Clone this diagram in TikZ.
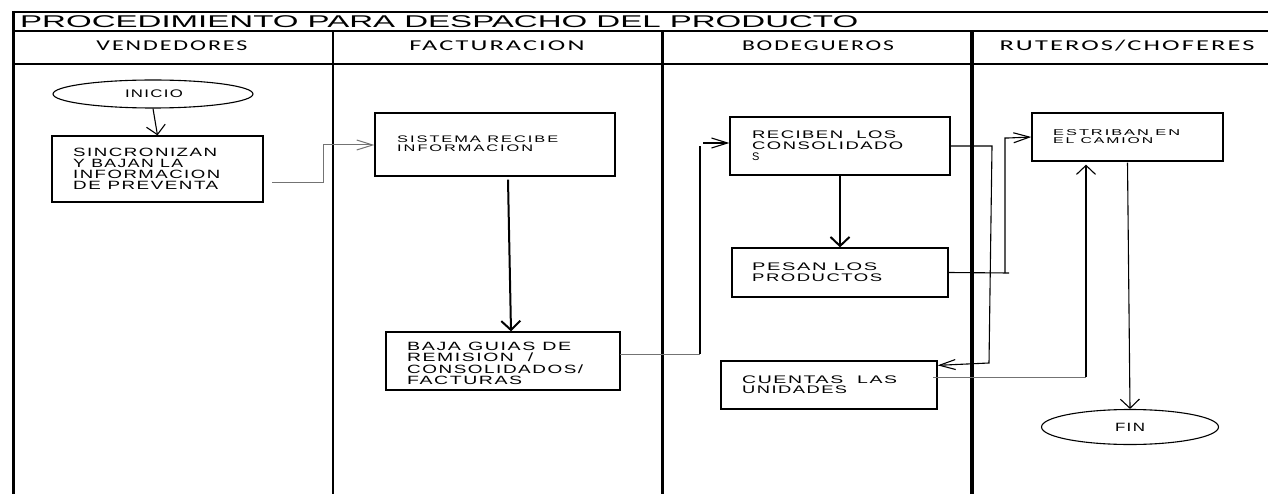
\documentclass[tikz,border=0pt]{standalone}
\usepackage{fontspec}
\setmainfont{Liberation Sans}
\newfontfamily\hdrfont{Carlito}
\usetikzlibrary{arrows.meta,shapes.geometric}
\newcommand\fw[2]{\resizebox{#1pt}{\height}{#2}}
\newcommand\blk[2]{\vtop{\baselineskip=#1pt\relax #2}}
\begin{document}
\begin{tikzpicture}[x=1pt,y=-1pt,
  frame/.style={line width=2pt},
  lane/.style={line width=3pt},
  box/.style={draw,line width=1.3pt,rectangle,inner sep=0pt},
  oval/.style={draw,line width=1.1pt,ellipse,inner sep=0pt},
  txt/.style={inner sep=0pt,anchor=base west},
  conn/.style={line width=1.1pt},
  connthick/.style={line width=2pt},
  conngray/.style={line width=1pt,black!55},
  arrV/.style={-{Straight Barb[length=9pt,width=19pt]}},
  arrH/.style={-{Straight Barb[length=16pt,width=10pt]}},
  hdr/.style={inner sep=0pt,anchor=base,font=\hdrfont\fontsize{15}{15}\selectfont\addfontfeature{LetterSpace=8}},
  bodyfont/.style={font=\fontsize{#1}{#1}\selectfont\addfontfeature{LetterSpace=8}}
]
\fill[white] (0,0) rectangle (1268,494);
\useasboundingbox (0,0) rectangle (1268,494);

% frame and lanes
\draw[frame] (12,12) -- (1268,12);
\draw[frame] (12,31) -- (1268,31);
\draw[frame] (12,64) -- (1268,64);
\draw[lane] (13,11) -- (13,494);
\draw[line width=2.5pt] (333,31) -- (333,494);
\draw[lane] (662,31) -- (662,494);
\draw[line width=3.5pt] (972,31) -- (972,494);

% title and headers
\node[txt,font=\fontsize{17}{17}\selectfont] (title) at (20,27.5) {\fw{838}{PROCEDIMIENTO PARA DESPACHO DEL PRODUCTO}};
\node[hdr] (h1) at (172,51) {\fw{151}{VENDEDORES}};
\node[hdr] (h2) at (497,51) {\fw{175}{FACTURACION}};
\node[hdr] (h3) at (818,51) {\fw{152}{BODEGUEROS}};
\node[hdr] (h4) at (1127,51) {\fw{255}{RUTEROS/CHOFERES}};

% shapes
\node[oval,minimum width=200pt,minimum height=28pt] (ini) at (153,94) {};
\node[box,minimum width=211pt,minimum height=66pt] (b1) at (157.5,169) {};
\node[box,minimum width=240pt,minimum height=63pt] (sis) at (495,144.5) {};
\node[box,minimum width=234pt,minimum height=58pt] (baja) at (503,361) {};
\node[box,minimum width=220pt,minimum height=58pt] (rec) at (840,146) {};
\node[box,minimum width=216pt,minimum height=49pt] (pes) at (840,272.5) {};
\node[box,minimum width=216pt,minimum height=48pt] (cue) at (829,385) {};
\node[box,minimum width=191pt,minimum height=48pt] (est) at (1127.5,137) {};
\node[oval,minimum width=177pt,minimum height=35pt] (fin) at (1130,427) {};

% texts
\node[inner sep=0pt,anchor=base,bodyfont=11] (tini) at (154,98) {\fw{58}{INICIO}};
\node[inner sep=0pt,anchor=base,bodyfont=12] (tfin) at (1130,431) {\fw{30}{FIN}};
\node[txt,bodyfont=12] (tb1) at (73,157) {\blk{11}{\hbox{\fw{144}{SINCRONIZAN}}\hbox{\fw{110}{Y BAJAN LA}}\hbox{\fw{147}{INFORMACION}}\hbox{\fw{145}{DE PREVENTA}}}};
\node[txt,font=\fontsize{9.5}{9.5}\selectfont\addfontfeature{LetterSpace=12}] (tsis) at (397,143) {\blk{9}{\hbox{\fw{161}{SISTEMA RECIBE}}\hbox{\fw{136}{INFORMACION}}}};
\node[txt,bodyfont=12] (tbaja) at (407,350) {\blk{11.5}{\hbox{\fw{164}{BAJA GUIAS DE}}\hbox{\fw{126}{REMISION \ /}}\hbox{\fw{176}{CONSOLIDADOS/}}\hbox{\fw{115}{FACTURAS}}}};
\node[txt,bodyfont=11] (trec) at (752,139) {\blk{11}{\hbox{\fw{144}{RECIBEN \ LOS}}\hbox{\fw{151}{CONSOLIDADO}}\hbox{S}}};
\node[txt,bodyfont=11] (tpes) at (752,270) {\blk{11}{\hbox{\fw{125}{PESAN LOS}}\hbox{\fw{130}{PRODUCTOS}}}};
\node[txt,bodyfont=11] (tcue) at (742,383) {\blk{10.5}{\hbox{\fw{155}{CUENTAS \ LAS}}\hbox{\fw{105}{UNIDADES}}}};
\node[txt,font=\fontsize{8.5}{8.5}\selectfont\addfontfeature{LetterSpace=12}] (test) at (1053,136) {\blk{8}{\hbox{\fw{127}{ESTRIBAN EN}}\hbox{\fw{100}{EL CAMION}}}};

% bend coordinates
\coordinate (c2s) at (272,183);
\coordinate (c2a) at (323,183);
\coordinate (c2b) at (323,145);
\coordinate (c4s) at (620,354);
\coordinate (c4a) at (700,354);
\coordinate (c4b) at (700,146);
\coordinate (c4c) at (703,143);
\coordinate (c5a) at (992,146);
\coordinate (c5b) at (989,363);
\coordinate (c6a) at (1009,273);
\coordinate (c6v) at (1005,273);
\coordinate (c6b) at (1005,138);
\coordinate (c6c) at (1008,138);
\coordinate (c7s) at (933,377);
\coordinate (c7a) at (1086,377);

% connectors
\draw[conn,arrV] (ini.south) -- (b1.north);
\draw[conngray,arrH] (c2s) -- (c2a) -- (c2b) -- (sis.west |- c2b);
\draw[connthick,arrV] ([xshift=13pt,yshift=-3pt]sis.south) -- ([xshift=8pt]baja.north);
\draw[conngray] (c4s) -- (c4a);
\draw[line width=2.5pt] (c4a) -- (c4b);
\draw[conn,arrH] (c4c) -- ([yshift=3pt]rec.west);
\draw[connthick,arrV] (rec.south) -- (pes.north);
\draw[conn,arrH] (rec.east) -- (c5a) -- (c5b) -- ([yshift=-5pt]cue.north east);
\draw[conn] (pes.east) -- (c6a);
\draw[conn,arrH] (c6v) -- (c6b) -- (c6c) -- ([yshift=0pt]est.west);
\draw[conngray] (c7s) -- (c7a);
\draw[conn,arrV] (c7a) -- ([xshift=-41.5pt,yshift=-3pt]est.south);
\draw[conn,arrV] ([yshift=-1pt]est.south) -- (fin.north);
\end{tikzpicture}
\end{document}
